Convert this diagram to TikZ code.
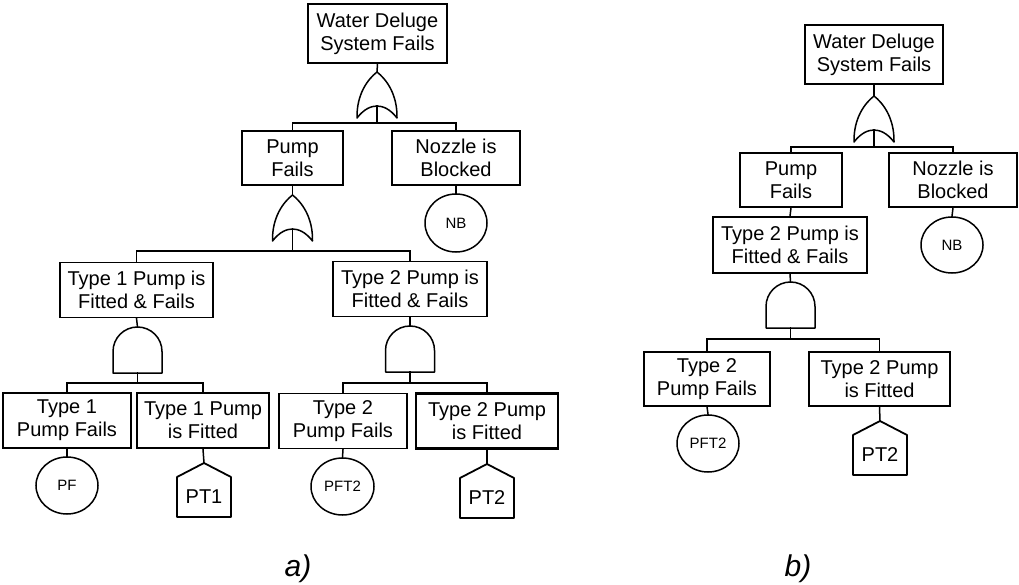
\documentclass[tikz,border=0pt]{standalone}
\usepackage{fontspec}
\setmainfont{Liberation Sans}
\usetikzlibrary{shapes.geometric}

\tikzset{
  wire/.style={line width=1.5pt, line cap=rect},
  event/.style={draw, line width=1.5pt, rectangle, inner sep=0pt, align=center,
    font=\fontsize{20}{23}\selectfont},
  heavy/.style={line width=2.5pt},
  basic/.style={draw, line width=1.5pt, ellipse, inner sep=0pt,
    font=\fontsize{15}{17}\selectfont},
  gateline/.style={line width=1.5pt, line join=round},
  lbl/.style={font=\itshape\fontsize{30}{34}\selectfont, anchor=base},
  % OR gate: apex at the origin, output stem leaves from the base
  pics/orgate/.style={code={
    \draw[gateline] (-20,46) .. controls (-20.5,22) and (-9,7) .. (0,0)
      .. controls (9,7) and (20.5,22) .. (20,46)
      .. controls (13,37) and (6,34) .. (0,34)
      .. controls (-6,34) and (-13,37) .. (-20,46) -- cycle;
    \coordinate (-in) at (0,0);
    \coordinate (-out) at (0,34);
  }},
  % AND gate: apex of the dome at the origin
  pics/andgate/.style={code={
    \draw[gateline] (-24.5,46) -- (-24.5,24.5)
      arc[start angle=180, end angle=0, radius=24.5pt] -- (24.5,46) -- cycle;
    \coordinate (-in) at (0,0);
    \coordinate (-out) at (0,46);
  }},
  % house (transfer) symbol with its label
  pics/house/.style={code={
    \draw[gateline, line width=1.8pt] (0,0) -- (27,14) -- (27,54) -- (-27,54) -- (-27,14) -- cycle;
    \coordinate (-in) at (0,0);
    \node[font=\fontsize{20}{23}\selectfont] (-label) at (0,34) {#1};
  }},
}

\begin{document}
\begin{tikzpicture}[x=1pt, y=-1pt]
\useasboundingbox (0,0) rectangle (1019,585);

% ---------------- tree a) ----------------
\node[event, minimum width=139, minimum height=59] (topA) at (377.5,33.5) {Water Deluge\\System Fails};
\pic (orA) at (377,72) {orgate};
\coordinate (jA) at (377,123);
\node[event, minimum width=101, minimum height=54] (pumpA) at (292.5,158) {Pump\\Fails};
\node[event, minimum width=128, minimum height=54] (nozA) at (456,158) {Nozzle is\\Blocked};
\node[basic, minimum width=62, minimum height=58] (nbA) at (456,223) {NB};

\pic (orP) at (292.5,195) {orgate};
\coordinate (jP) at (292.5,251);

\node[event, minimum width=153, minimum height=55] (t1ff) at (136.5,290) {Type 1 Pump is\\Fitted \& Fails};
\node[event, minimum width=154, minimum height=55] (t2ffA) at (410,289) {Type 2 Pump is\\Fitted \& Fails};

\pic (and1) at (137.5,327) {andgate};
\coordinate (j1) at (137.5,383);
\pic (and2A) at (410,326) {andgate};
\coordinate (j2A) at (410,383);

\node[event, heavy, minimum width=128, minimum height=55] (t1pf) at (67,420.5) {Type 1\\Pump Fails};
\node[event, heavy, minimum width=132, minimum height=55] (t1fit) at (203,420.5) {Type 1 Pump\\is Fitted};
\node[event, minimum width=128, minimum height=55] (t2pfA) at (343,421) {Type 2\\Pump Fails};
\node[event, heavy, minimum width=142, minimum height=55] (t2fitA) at (487,421) {Type 2 Pump\\is Fitted};

\node[basic, minimum width=62, minimum height=57] (pf) at (67,485.5) {PF};
\pic (pt1) at (204,463) {house=PT1};
\node[basic, minimum width=63, minimum height=57] (pft2A) at (342.5,486.5) {PFT2};
\pic (pt2A) at (487,464) {house=PT2};

\draw[wire] (topA.south) -- (orA-in);
\draw[wire] (orA-out) -- (jA);
\draw[wire] (pumpA.north) |- (jA) -| (nozA.north);
\draw[wire] (nozA.south) -- (nbA.north);
\draw[wire] (pumpA.south) -- (orP-in);
\draw[wire] (orP-out) -- (jP);
\draw[wire] (t1ff.north) |- (jP) -| (t2ffA.north);
\draw[wire] (t1ff.south) -- (and1-in);
\draw[wire] (and1-out) -- (j1);
\draw[wire] (t1pf.north) |- (j1) -| (t1fit.north);
\draw[wire] (t2ffA.south) -- (and2A-in);
\draw[wire] (and2A-out) -- (j2A);
\draw[wire] (t2pfA.north) |- (j2A) -| (t2fitA.north);
\draw[wire] (t1pf.south) -- (pf.north);
\draw[wire] (t1fit.south) -- (pt1-in);
\draw[wire] (t2pfA.south) -- (pft2A.north);
\draw[wire] (t2fitA.south) -- (pt2A-in);

\node[lbl] (capA) at (298,576) {a)};

% ---------------- tree b) ----------------
\node[event, minimum width=138, minimum height=59] (topB) at (874,54.5) {Water Deluge\\System Fails};
\pic (orB) at (874,96) {orgate};
\coordinate (jB) at (874,147);
\node[event, minimum width=102, minimum height=54] (pumpB) at (791,180) {Pump\\Fails};
\node[event, minimum width=128, minimum height=54] (nozB) at (953,180) {Nozzle is\\Blocked};
\node[basic, minimum width=62, minimum height=56] (nbB) at (952,245) {NB};

\node[event, minimum width=154, minimum height=56] (t2ffB) at (790,245) {Type 2 Pump is\\Fitted \& Fails};
\pic (and2B) at (790.5,282) {andgate};
\coordinate (j2B) at (790.5,339);

\node[event, minimum width=126, minimum height=54] (t2pfB) at (707,379) {Type 2\\Pump Fails};
\node[event, heavy, minimum width=141, minimum height=54] (t2fitB) at (879.5,379) {Type 2 Pump\\is Fitted};
\node[basic, minimum width=62, minimum height=57] (pft2B) at (708,443.5) {PFT2};
\pic (pt2B) at (880,421) {house=PT2};

\draw[wire] (topB.south) -- (orB-in);
\draw[wire] (orB-out) -- (jB);
\draw[wire] (pumpB.north) |- (jB) -| (nozB.north);
\draw[wire] (nozB.south) -- (nbB.north);
\draw[wire] (pumpB.south) -- (t2ffB.north);
\draw[wire] (t2ffB.south) -- (and2B-in);
\draw[wire] (and2B-out) -- (j2B);
\draw[wire] (t2pfB.north) |- (j2B) -| (t2fitB.north);
\draw[wire] (t2pfB.south) -- (pft2B.north);
\draw[wire] (t2fitB.south) -- (pt2B-in);

\node[lbl] (capB) at (798,576) {b)};
\end{tikzpicture}
\end{document}
